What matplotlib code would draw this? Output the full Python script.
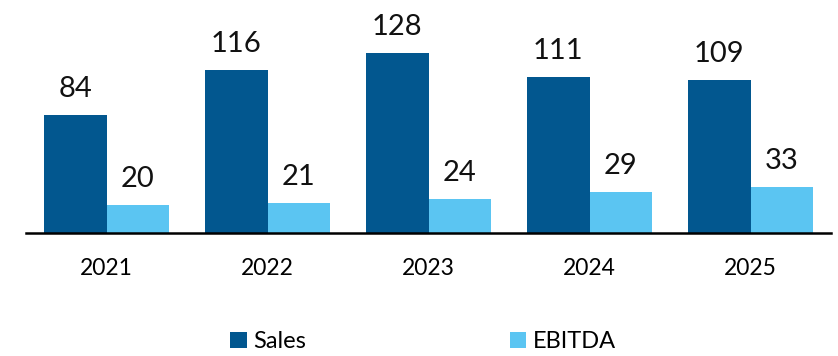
import numpy as np
import matplotlib
matplotlib.use("Agg")
import matplotlib.pyplot as plt

plt.rcParams["font.family"] = ["Lato", "DejaVu Sans"]

years = ["2021", "2022", "2023", "2024", "2025"]
sales = [84, 116, 128, 111, 109]
ebitda = [20, 21, 24, 29, 33]

SALES_COLOR = "#02578F"
EBITDA_COLOR = "#5BC5F2"

fig = plt.figure(figsize=(8.38, 3.56), dpi=100)
ax = fig.add_axes([26 / 838, 123 / 356, 805 / 838, 233 / 356])

x = np.arange(len(years))
w = 0.39
b1 = ax.bar(x - w / 2, sales, w, color=SALES_COLOR, label="Sales")
b2 = ax.bar(x + w / 2, ebitda, w, color=EBITDA_COLOR, label="EBITDA")

# value labels above each bar
for bars, vals in ((b1, sales), (b2, ebitda)):
    for bar, v in zip(bars, vals):
        ax.annotate(f"{v}", (bar.get_x() + bar.get_width() / 2, v),
                    xytext=(0, 13), textcoords="offset points",
                    ha="center", va="baseline", fontsize=21, color="#111111")

ax.set_xlim(-0.5, len(years) - 0.5)
ax.set_ylim(0, 165.8)
ax.set_xticks(x)
ax.set_xticklabels(years, fontsize=16.5)
ax.tick_params(axis="x", length=0, pad=18)
ax.set_yticks([])
for side in ("top", "right", "left"):
    ax.spines[side].set_visible(False)
ax.spines["bottom"].set_linewidth(1.8)
ax.spines["bottom"].set_color("black")

fig.legend(handles=[b1, b2], labels=["Sales", "EBITDA"], ncol=2,
           loc="center", bbox_to_anchor=(0.505, 0.04), frameon=False,
           fontsize=17, handlelength=0.7, handleheight=0.7,
           handletextpad=0.3, columnspacing=8.6)

fig.savefig("out.png", dpi=100)
